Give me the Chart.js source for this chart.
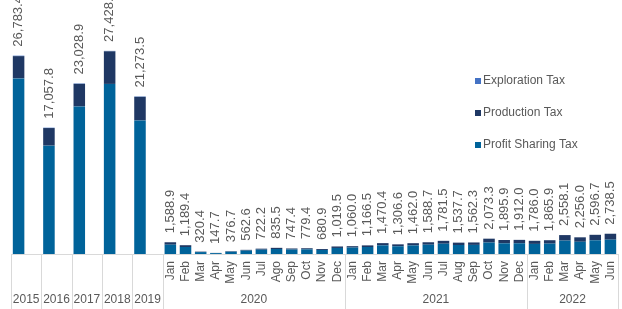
<!DOCTYPE html>
<html>
<head>
<meta charset="utf-8">
<script src="https://cdn.jsdelivr.net/npm/chart.js@4.4.1/dist/chart.umd.min.js"></script>
<style>
    html, body { margin: 0; padding: 0; background: #fff; }
    #wrap { width: 622px; height: 309px; position: relative; }
</style>
</head>
<body>
<div id="wrap"><canvas id="taxChart"></canvas></div>
<script>
// yearly totals (2015-2019), then monthly Jan 2020 - Jun 2022
const years = ['2015', '2016', '2017', '2018', '2019'];
const monthYears = ['2020', '2021', '2022'];
const months2020 = ['Jan', 'Feb', 'Mar', 'Apr', 'May', 'Jun', 'Jul', 'Ago', 'Sep', 'Oct', 'Nov', 'Dec'];
const months2021 = ['Jan', 'Feb', 'Mar', 'Apr', 'May', 'Jun', 'Jul', 'Aug', 'Sep', 'Oct', 'Nov', 'Dec'];
const months2022 = ['Jan', 'Feb', 'Mar', 'Apr', 'May', 'Jun'];

const yearProfit = [23711.1, 14633.3, 19923.7, 22968.2, 18035.4];
const yearProduction = [3010, 2376, 3050, 4400, 3186];
const yearExploration = [62.3, 48.5, 55.2, 60.4, 52.1];

const monthProfit = [
    1255.7, 947.3, 258.9, 121.7, 305.3, 455.6, 584.9, 672.9, 605.3, 627.0, 548.9, 816.5,
    867.5, 943.7, 1167.3, 1043.7, 1159.0, 1255.5, 1388.0, 1214.7, 1229.2, 1549.5, 1442.5, 1448.5,
    1362.6, 1402.4, 1814.0, 1652.2, 1852.5, 1934.0
];
const monthProduction = [
    330, 240, 60, 25, 70, 105, 135, 160, 140, 150, 130, 200,
    190, 220, 300, 260, 300, 330, 390, 320, 330, 520, 450, 460,
    420, 460, 740, 600, 740, 800
];
const monthExploration = [
    3.2, 2.1, 1.5, 1.0, 1.4, 2.0, 2.3, 2.6, 2.1, 2.4, 2.0, 3.0,
    2.5, 2.8, 3.1, 2.9, 3.0, 3.2, 3.5, 3.0, 3.1, 3.8, 3.4, 3.5,
    3.4, 3.5, 4.1, 3.8, 4.2, 4.5
];

const TEXT = '#595959';
const FONT = "'Liberation Sans', Arial, sans-serif";

// each year takes two slots (bar + empty), each month one slot
const slotLabels = [];
const profitData = [], productionData = [], explorationData = [];
years.forEach((y, i) => {
    slotLabels.push(y, '');
    profitData.push(yearProfit[i], null);
    productionData.push(yearProduction[i], null);
    explorationData.push(yearExploration[i], null);
});
const allMonths = months2020.concat(months2021, months2022);
allMonths.forEach((m, i) => {
    slotLabels.push(m);
    profitData.push(monthProfit[i]);
    productionData.push(monthProduction[i]);
    explorationData.push(monthExploration[i]);
});
const groups = [
    ...years.map(y => ({ label: y, slots: 2 })),
    { label: monthYears[0], slots: months2020.length },
    { label: monthYears[1], slots: months2021.length },
    { label: monthYears[2], slots: months2022.length }
];

function fmt(v) {
    return v.toLocaleString('en-US', { minimumFractionDigits: 1, maximumFractionDigits: 1 });
}

const axisPlugin = {
    id: 'axisPlugin',
    afterDatasetsDraw(chart) {
        const ctx = chart.ctx;
        const area = chart.chartArea;
        const slotW = (area.right - area.left) / slotLabels.length;
        const bottom = chart.height;

        ctx.save();
        // baseline
        ctx.strokeStyle = '#d9d9d9';
        ctx.lineWidth = 1;
        ctx.beginPath();
        ctx.moveTo(area.left, Math.round(area.bottom) + 0.5);
        ctx.lineTo(area.right, Math.round(area.bottom) + 0.5);
        ctx.stroke();

        // group separators and group labels
        let slot = 0;
        ctx.fillStyle = TEXT;
        ctx.font = '12px ' + FONT;
        ctx.textAlign = 'center';
        ctx.textBaseline = 'middle';
        const edges = [0];
        groups.forEach(g => {
            const x0 = area.left + slot * slotW;
            slot += g.slots;
            const x1 = area.left + slot * slotW;
            edges.push(slot);
            ctx.fillText(g.label, (x0 + x1) / 2, 300);
        });
        edges.forEach(s => {
            const x = Math.round(area.left + s * slotW) + 0.5;
            ctx.beginPath();
            ctx.moveTo(x, area.bottom);
            ctx.lineTo(x, bottom);
            ctx.stroke();
        });

        // month labels, rotated
        const xScale = chart.scales.x;
        ctx.textAlign = 'right';
        ctx.textBaseline = 'middle';
        for (let i = years.length * 2; i < slotLabels.length; i++) {
            const x = xScale.getPixelForValue(i);
            ctx.save();
            ctx.translate(x, area.bottom + 7);
            ctx.rotate(-Math.PI / 2);
            ctx.fillText(slotLabels[i], 0, 0);
            ctx.restore();
        }

        // total labels above bars
        const topMeta = chart.getDatasetMeta(2);
        ctx.font = '13px ' + FONT;
        ctx.textAlign = 'left';
        for (let i = 0; i < slotLabels.length; i++) {
            if (profitData[i] === null) continue;
            const total = profitData[i] + productionData[i] + explorationData[i];
            const bar = topMeta.data[i];
            ctx.save();
            ctx.translate(bar.x, bar.y - 9);
            ctx.rotate(-Math.PI / 2);
            ctx.fillText(fmt(total), 0, 0);
            ctx.restore();
        }

        // legend
        const legend = [
            { text: 'Exploration Tax', color: '#4472c4', y: 81 },
            { text: 'Production Tax', color: '#1f3864', y: 113 },
            { text: 'Profit Sharing Tax', color: '#00639a', y: 145 }
        ];
        ctx.font = '12px ' + FONT;
        ctx.textBaseline = 'middle';
        legend.forEach(l => {
            ctx.fillStyle = l.color;
            ctx.fillRect(475, l.y - 3, 6, 6);
            ctx.fillStyle = TEXT;
            ctx.fillText(l.text, 483, l.y);
        });
        ctx.restore();
    }
};

const chart = new Chart(document.getElementById('taxChart'), {
    type: 'bar',
    data: {
        labels: slotLabels,
        datasets: [
            { label: 'Profit Sharing Tax', data: profitData, backgroundColor: '#00639a' },
            { label: 'Production Tax', data: productionData, backgroundColor: '#1f3864' },
            { label: 'Exploration Tax', data: explorationData, backgroundColor: '#4472c4' }
        ]
    },
    options: {
        responsive: true,
        maintainAspectRatio: false,
        animation: false,
        layout: { padding: { left: 11, right: 4, top: 0, bottom: 55 } },
        datasets: { bar: { barPercentage: 0.76, categoryPercentage: 1, borderWidth: 0 } },
        plugins: { legend: { display: false }, tooltip: { enabled: false } },
        scales: {
            x: { stacked: true, display: false },
            y: { stacked: true, display: false, min: 0, max: 34300 }
        }
    },
    plugins: [axisPlugin]
});
</script>
</body>
</html>
